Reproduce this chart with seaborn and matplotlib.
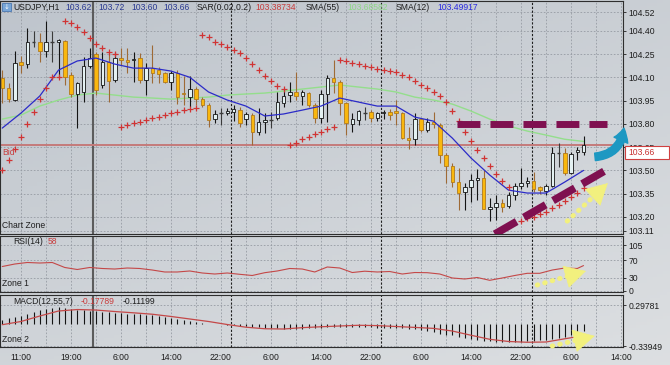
import matplotlib
matplotlib.use("Agg")
import matplotlib.pyplot as plt
import numpy as np
import seaborn as sns
from matplotlib.patches import FancyArrowPatch, Rectangle

# bar 0 sits on the "11:00" label, the first visible candle is bar -3
FIRST_BAR = -3

OPEN = [
    104.095, 104.03, 103.953, 104.198, 104.185, 104.334, 104.327, 104.27, 104.334, 104.33,
    104.334, 104.114, 103.99, 104.005, 104.17, 104.25, 104.05, 104.198, 104.08, 104.224,
    104.21, 104.21, 104.224, 104.08, 104.16, 104.15, 104.13, 104.07, 104.127, 104.00,
    103.97, 104.023, 103.96, 103.92, 103.83, 103.87, 103.87, 103.875, 103.888, 103.83,
    103.855, 103.745, 103.81, 103.825, 103.84, 103.934, 103.985, 104.005, 103.98, 103.998,
    103.92, 103.837, 103.99, 104.095, 104.07, 103.934, 103.80, 103.824, 103.87, 103.875,
    103.84, 103.87, 103.875, 103.88, 103.87, 103.707, 103.70, 103.83, 103.76, 103.81,
    103.79, 103.598, 103.527, 103.424, 103.36, 103.392, 103.437, 103.45, 103.25, 103.262,
    103.288, 103.27, 103.34, 103.40, 103.418, 103.43, 103.39, 103.366, 103.40, 103.61,
    103.61, 103.482, 103.617, 103.62,
]
HIGH = [
    104.146, 104.063, 104.27, 104.237, 104.417, 104.40, 104.385, 104.46, 104.40, 104.345,
    104.34, 104.134, 104.07, 104.23, 104.288, 104.263, 104.263, 104.256, 104.263, 104.29,
    104.29, 104.26, 104.256, 104.19, 104.31, 104.165, 104.134, 104.14, 104.15, 104.11,
    104.11, 104.036, 103.97, 103.933, 103.89, 103.90, 103.90, 103.92, 103.907, 103.875,
    103.87, 103.90, 103.87, 103.875, 104.005, 104.017, 104.07, 104.134, 104.017, 104.005,
    103.933, 104.017, 104.114, 104.21, 104.08, 103.94, 103.87, 103.888, 103.907, 103.888,
    103.875, 103.888, 103.894, 103.953, 103.875, 103.78, 103.87, 103.837, 103.837, 103.875,
    103.805, 103.61, 103.547, 103.514, 103.418, 103.475, 103.508, 103.50, 103.32, 103.34,
    103.314, 103.36, 103.418, 103.514, 103.456, 103.487, 103.40, 103.41, 103.65, 103.675,
    103.643, 103.617, 103.65, 103.72,
]
LOW = [
    103.934, 103.94, 103.946, 104.127, 104.16, 104.295, 104.198, 104.23, 104.198, 104.10,
    104.05, 103.97, 103.77, 103.94, 104.16, 103.985, 104.03, 103.94, 104.07, 104.18,
    104.13, 104.07, 104.06, 103.985, 104.06, 104.06, 104.06, 104.017, 103.93, 103.92,
    103.91, 103.92, 103.91, 103.78, 103.805, 103.79, 103.855, 103.82, 103.78, 103.79,
    103.66, 103.727, 103.74, 103.77, 103.824, 103.907, 103.94, 103.953, 103.92, 103.907,
    103.805, 103.805, 103.81, 103.998, 103.856, 103.727, 103.746, 103.79, 103.824, 103.81,
    103.817, 103.83, 103.824, 103.79, 103.70, 103.637, 103.66, 103.746, 103.746, 103.77,
    103.547, 103.418, 103.392, 103.244, 103.244, 103.295, 103.308, 103.25, 103.17, 103.18,
    103.23, 103.256, 103.308, 103.38, 103.392, 103.36, 103.35, 103.34, 103.392, 103.52,
    103.47, 103.475, 103.566, 103.60,
]
CLOSE = [
    104.03, 103.96, 104.19, 104.18, 104.327, 104.33, 104.27, 104.327, 104.33, 104.338,
    104.10, 103.99, 104.06, 104.17, 104.224, 104.017, 104.198, 104.075, 104.224, 104.21,
    104.20, 104.22, 104.08, 104.16, 104.13, 104.12, 104.07, 104.127, 103.97, 103.995,
    104.023, 103.96, 103.92, 103.824, 103.86, 103.872, 103.88, 103.895, 103.805, 103.86,
    103.745, 103.81, 103.825, 103.826, 103.94, 103.98, 104.005, 103.98, 104.005, 103.92,
    103.837, 103.99, 104.095, 104.07, 103.934, 103.805, 103.83, 103.88, 103.871, 103.837,
    103.87, 103.875, 103.856, 103.87, 103.707, 103.695, 103.83, 103.76, 103.81, 103.80,
    103.598, 103.527, 103.424, 103.353, 103.39, 103.437, 103.45, 103.25, 103.26, 103.288,
    103.262, 103.34, 103.40, 103.418, 103.43, 103.38, 103.37, 103.40, 103.61, 103.612,
    103.482, 103.605, 103.63, 103.66,
]

# parabolic SAR, one value per candle (nan where no cross is visible)
SAR = [
    103.501, 103.566, 103.637, 103.714, 103.798, 103.875, 103.959, 104.030, 104.101, 104.101,
    104.463, 104.450, 104.424, 104.392, 104.353, 104.314, 104.288, 104.263, 104.250, 103.779,
    103.792, 103.805, 103.811, 103.824, 103.837, 103.843, 103.856, 103.869, 103.875, 103.888,
    103.895, 103.901, 104.372, 104.359, 104.327, 104.314, 104.295, 104.275, 104.256, 104.224,
    104.185, 104.146, 104.108, 104.075, 104.043, 104.024, 103.663, 103.675, 103.701, 103.714,
    103.734, 103.746, 103.766, 103.779, 104.211, 104.205, 104.192, 104.185, 104.172, 104.166,
    104.153, 104.146, 104.140, 104.134, 104.114, 104.101, 104.075, 104.050, 104.030, 104.005,
    103.979, 103.940, 103.882, 103.817, 103.746, 103.688, 103.630, 103.579, 103.527, 103.475,
    103.430, 103.392, np.nan, 103.172, 103.192, 103.198, 103.217, 103.230, 103.256, 103.275,
    103.301, 103.327, 103.353, 103.385,
]

# moving averages and MACD signal read every third bar
LINE_BARS = list(range(-3, 91, 3))
SMA12 = [
    103.772, 103.869, 103.979, 104.146, 104.205, 104.224, 104.185, 104.159, 104.159, 104.14,
    104.10, 104.005, 103.953, 103.914, 103.85, 103.863, 103.888, 103.914, 103.966, 103.94,
    103.914, 103.914, 103.843, 103.817, 103.708, 103.579, 103.469, 103.372, 103.353, 103.353,
    103.424, 103.499,
]
SMA55 = [
    103.830, 103.856, 103.914, 103.953, 103.985, 103.998, 103.985, 103.972, 103.966, 103.959,
    103.966, 103.972, 103.985, 103.992, 103.998, 104.011, 104.024, 104.037, 104.05, 104.037,
    104.024, 104.005, 103.972, 103.953, 103.927, 103.882, 103.830, 103.786, 103.753, 103.727,
    103.70, 103.686,
]
MACD_SIGNAL = [
    -0.008, 0.042, 0.127, 0.205, 0.228, 0.22, 0.197, 0.177, 0.155, 0.12,
    0.081, 0.042, -0.005, -0.047, -0.071, -0.075, -0.054, -0.04, -0.028, -0.017,
    -0.022, -0.036, -0.05, -0.065, -0.106, -0.172, -0.235, -0.269, -0.281, -0.277,
    -0.227, -0.178,
]
MACD_HIST = [
    0.065, 0.09, 0.11, 0.13, 0.165, 0.19, 0.215, 0.235, 0.247, 0.26,
    0.255, 0.24, 0.228, 0.215, 0.207, 0.2, 0.195, 0.188, 0.178, 0.17,
    0.166, 0.158, 0.152, 0.143, 0.137, 0.127, 0.11, 0.095, 0.078, 0.058,
    0.044, 0.028, 0.018, 0.01, 0.004, -0.004, -0.01, -0.018, -0.025, -0.032,
    -0.04, -0.048, -0.055, -0.06, -0.065, -0.068, -0.07, -0.07, -0.068, -0.065,
    -0.06, -0.055, -0.05, -0.048, -0.045, -0.045, -0.046, -0.047, -0.048, -0.05,
    -0.052, -0.055, -0.058, -0.062, -0.066, -0.072, -0.08, -0.09, -0.1, -0.12,
    -0.145, -0.162, -0.175, -0.195, -0.215, -0.232, -0.245, -0.255, -0.265, -0.27,
    -0.272, -0.272, -0.272, -0.27, -0.265, -0.255, -0.245, -0.24, -0.23, -0.215,
    -0.195, -0.168, -0.142, -0.112,
]

# RSI read every second bar
RSI_BARS = list(range(-3, 90, 2)) + [90]
RSI = [
    55.9, 61.6, 65.1, 63.9, 65.1, 53.7, 49.1, 53.7, 51.4, 50.2,
    52.5, 51.4, 47.9, 43.4, 43.4, 45.7, 41.1, 38.8, 41.1, 38.1,
    35.4, 41.8, 45.7, 51.4, 50.2, 43.4, 54.8, 52.5, 42.2, 45.2,
    43.4, 44.5, 38.8, 42.2, 41.8, 38.8, 29.7, 27.4, 30.8, 24.4,
    29.7, 35.4, 40.4, 40.4, 47.9, 52.5, 51.4, 58.0,
]

TIME_LABELS = ["11:00", "19:00", "6:00", "14:00", "22:00", "6:00", "14:00",
               "22:00", "6:00", "14:00", "22:00", "6:00", "14:00"]
PRICE_TICKS = [104.52, 104.40, 104.25, 104.10, 103.95, 103.80, 103.65,
               103.50, 103.35, 103.20, 103.11]
RSI_TICKS = [0, 30, 70, 105]
MACD_TICKS = [-0.33949, 0.29781]
BID = 103.66

# drawn annotations (bar, value)
RESIST_LEVEL = 103.80
RESIST_BARS = (69.8, 93.8)
TREND_LINE = [(75.8, 103.088), (94.0, 103.51)]
CYAN_ARROW = [(91.4, 103.585), (96.5, 103.79)]
ARROW_PRICE = [(87.4, 103.172), (93.9, 103.417)]
ARROW_RSI = [(82.6, 13.7), (90.4, 45.7)]
ARROW_MACD = [(85.0, -0.339), (91.8, -0.183)]

VLINE_BAR = 11.44
DAY_BREAKS = [33.6, 57.6, 81.7]

GRID = "#969BA3"
DARK = "#1E1E1E"
MAGENTA = "#7F1050"
YELLOW = "#F2F07E"

sns.set_theme(style="white")
plt.rcParams["font.family"] = ["Liberation Sans", "DejaVu Sans"]
plt.rcParams["axes.unicode_minus"] = False

fig = plt.figure(figsize=(6.7, 3.65), dpi=100)

# soft grey gradient behind everything
bg = fig.add_axes([0, 0, 1, 1], zorder=-10)
gy, gx = np.mgrid[0:1:120j, 0:1:200j]
shade = 0.6 * gy + 0.4 * gx
c_top = np.array([0.745, 0.77, 0.80])
c_bot = np.array([0.865, 0.875, 0.885])
bg.imshow(c_top + shade[..., None] * (c_bot - c_top), extent=(0, 1, 0, 1), aspect="auto")
bg.axis("off")

W = 623 / 670
ax_main = fig.add_axes([0.0, 1 - 233.5 / 365, W, 232.5 / 365])
ax_rsi = fig.add_axes([0.0, 1 - 292 / 365, W, 56 / 365])
ax_macd = fig.add_axes([0.0, 1 - 346.5 / 365, W, 51.5 / 365])

XMIN, XMAX = -3.36, 96.32
LABEL_BARS = np.arange(0, 97, 8)
GRID_BARS = np.arange(4, 97, 8)


def style_panel(ax, yticks, ylabels):
    ax.set_facecolor("none")
    ax.set_xlim(XMIN, XMAX)
    ax.set_xticks(LABEL_BARS)
    ax.set_xticks(GRID_BARS, minor=True)
    ax.set_yticks(yticks)
    ax.set_yticklabels(ylabels)
    ax.grid(True, which="both", axis="x", color=GRID, lw=0.6, linestyle=(0, (2, 2)))
    ax.grid(True, which="major", axis="y", color=GRID, lw=0.6, linestyle=(0, (2, 2)))
    ax.yaxis.tick_right()
    ax.tick_params(axis="y", direction="out", length=2, width=0.6, pad=2,
                   labelsize=6.2, colors=DARK)
    ax.tick_params(axis="x", which="both", length=0, labelbottom=False)
    ax.set_xlabel("")
    ax.set_ylabel("")
    for s in ax.spines.values():
        s.set_color("#2E2E2E")
        s.set_linewidth(0.8)
    ax.axvline(VLINE_BAR, color="#5C5C5C", lw=1.5, zorder=2)
    for d in DAY_BREAKS:
        ax.axvline(d, color=DARK, lw=0.8, linestyle=(0, (2, 1.5)), zorder=2)


# ---- price panel
bars = np.arange(FIRST_BAR, FIRST_BAR + len(OPEN))
o, h, l, c = (np.array(v) for v in (OPEN, HIGH, LOW, CLOSE))
up = c - o > 0.0045
down = o - c > 0.0045
doji = ~(up | down)

ax_main.vlines(bars[up], l[up], h[up], color="#141414", lw=0.8, zorder=4)
ax_main.vlines(bars[down], l[down], h[down], color="#9E6A36", lw=0.8, zorder=4)
ax_main.vlines(bars[doji], l[doji], h[doji], color="#3A3A3A", lw=0.8, zorder=4)
ax_main.bar(bars[up], c[up] - o[up], bottom=o[up], width=0.56, color="#E4F1F2",
            edgecolor="#141414", linewidth=0.6, zorder=5)
ax_main.bar(bars[down], o[down] - c[down], bottom=c[down], width=0.56, color="#F9B70E",
            edgecolor="#B07A1E", linewidth=0.6, zorder=5)
ax_main.hlines(c[doji], bars[doji] - 0.3, bars[doji] + 0.3, color="#3A3A3A", lw=1.0, zorder=5)

sns.lineplot(x=LINE_BARS, y=SMA55, ax=ax_main, color="#94DE8C", linewidth=1.0, zorder=3)
sns.lineplot(x=LINE_BARS, y=SMA12, ax=ax_main, color="#2B2BC8", linewidth=0.9, zorder=6)
sns.scatterplot(x=bars, y=SAR, ax=ax_main, marker="+", s=14, color="#D03434",
                linewidth=0.9, zorder=6, legend=False)
ax_main.axhline(BID, color="#C47A7A", lw=1.4, zorder=2.5)

style_panel(ax_main, PRICE_TICKS, [f"{v:.2f}" for v in PRICE_TICKS])
ax_main.set_ylim(103.092, 104.592)

# ---- RSI panel
sns.lineplot(x=RSI_BARS, y=RSI, ax=ax_rsi, color="#C44848", linewidth=0.8, zorder=4)
style_panel(ax_rsi, RSI_TICKS, [str(v) for v in RSI_TICKS])
ax_rsi.set_ylim(-2.3, 125.6)

# ---- MACD panel
ax_macd.vlines(bars, 0, MACD_HIST, color="#141414", lw=0.8, zorder=3)
sns.lineplot(x=LINE_BARS, y=MACD_SIGNAL, ax=ax_macd, color="#C44848", linewidth=0.9, zorder=4)
style_panel(ax_macd, MACD_TICKS, [f"{v:.5f}" for v in MACD_TICKS])
ax_macd.set_ylim(-0.347, 0.454)
ax_macd.set_xticklabels(TIME_LABELS)
ax_macd.tick_params(axis="x", which="major", length=2, width=0.6, pad=3,
                    labelbottom=True, labelsize=6.2, colors=DARK)

# ---- hand drawn annotations
ax_main.plot(RESIST_BARS, [RESIST_LEVEL, RESIST_LEVEL], color=MAGENTA, lw=5,
             dashes=(3.3, 1.45), solid_capstyle="butt", dash_capstyle="butt", zorder=7)
ax_main.plot([p[0] for p in TREND_LINE], [p[1] for p in TREND_LINE], color=MAGENTA,
             lw=5.5, dashes=(3.3, 1.1), dash_capstyle="butt", zorder=7)
ax_main.add_patch(FancyArrowPatch(
    CYAN_ARROW[0], CYAN_ARROW[1], connectionstyle="arc3,rad=0.45",
    arrowstyle="simple,head_length=1.0,head_width=1.2,tail_width=0.6",
    mutation_scale=9, color="#1D98C2", clip_on=False, zorder=9))


def dotted_arrow(ax, start, end):
    # dotted shaft, stopping short of the tip, then a solid head
    (x0, y0), (x1, y1) = start, end
    xm, ym = x0 + 0.75 * (x1 - x0), y0 + 0.75 * (y1 - y0)
    ax.plot([x0, xm], [y0, ym], color=YELLOW, lw=3.6, dashes=(0.1, 1.45),
            dash_capstyle="round", clip_on=False, zorder=9)
    ax.annotate("", xy=end, xytext=(xm, ym),
                arrowprops=dict(arrowstyle="-|>,head_length=1.2,head_width=0.65",
                                color=YELLOW, lw=0.5, shrinkA=0, shrinkB=0),
                annotation_clip=False, zorder=9)


dotted_arrow(ax_main, *ARROW_PRICE)
dotted_arrow(ax_rsi, *ARROW_RSI)
dotted_arrow(ax_macd, *ARROW_MACD)


# ---- texts placed in pixel positions
def px_text(x, y, s, color=DARK, size=6.2, **kw):
    fig.text(x / 670, 1 - y / 365, s, color=color, fontsize=size, va="center", ha="left", **kw)


fig.patches.append(Rectangle((2 / 670, 1 - 11 / 365), 9 / 670, 8 / 365, transform=fig.transFigure,
                             facecolor="#78A6D8", edgecolor="#4A78B0", lw=0.6))
px_text(3.6, 7, "\u2193", color="white", size=5, family=["DejaVu Sans"])
px_text(13, 7, "USDJPY,H1")
for x, v in zip([65, 98, 131, 163], [OPEN[-1], HIGH[-1], LOW[-1], CLOSE[-1]]):
    px_text(x, 7, f"{v:.2f}", color="#2B3A92")
px_text(197, 7, "SAR(0.02,0.2)")
px_text(255, 7, "103.38734", color="#C83C3C")
px_text(306, 7, "SMA(55)")
px_text(347, 7, "103.68582", color="#8ED886")
px_text(396, 7, "SMA(12)")
px_text(437, 7, "103.49917", color="#2B2BE0")

px_text(2, 152, "Bid", color="#C84040")
px_text(2, 226, "Chart Zone")
px_text(13, 242, "RSI(14)")
px_text(48, 242, "58", color="#C83C3C")
px_text(2, 284, "Zone 1")
px_text(13, 302, "MACD(12,55,7)")
px_text(81, 302, "-0.17789", color="#C83C3C")
px_text(123, 302, "-0.11199")
px_text(2, 339, "Zone 2")

fig.patches.append(Rectangle((625 / 670, 1 - 159.5 / 365), 44 / 670, 13 / 365,
                             transform=fig.transFigure, facecolor="white",
                             edgecolor="#D04040", lw=0.8, zorder=10))
fig.text(628 / 670, 1 - 153 / 365, f"{BID:.2f}", color="#C83232", fontsize=6.2,
         va="center", ha="left", zorder=11)

fig.savefig("out.png", dpi=100)
